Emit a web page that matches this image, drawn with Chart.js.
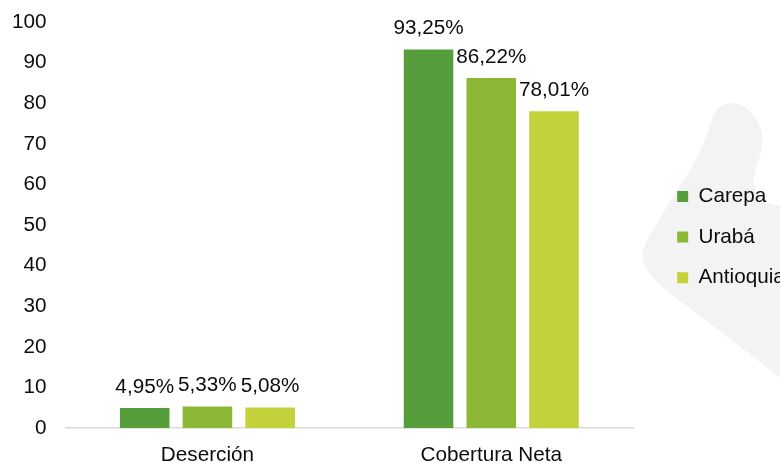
<!DOCTYPE html>
<html>
<head>
<meta charset="utf-8">
<script src="https://cdn.jsdelivr.net/npm/chart.js@4"></script>
<style>
  html, body { margin: 0; padding: 0; background: #ffffff; }
  #wrap { width: 780px; height: 463px; position: relative; }
</style>
</head>
<body>
<div id="wrap"><canvas id="c"></canvas></div>
<script>
const categories = ['Deserción', 'Cobertura Neta'];
const seriesNames = ['Carepa', 'Urabá', 'Antioquia'];
const carepa = [4.95, 93.25];
const uraba = [5.33, 86.22];
const antioquia = [5.08, 78.01];
const seriesColors = ['#559E3B', '#8CB835', '#C3D13A'];
const yTicks = [0, 10, 20, 30, 40, 50, 60, 70, 80, 90, 100];

const FONT = "'Liberation Sans', Arial, sans-serif";
const FSIZE = 20.7;
const TXT = '#0d0d0d';

const bgShape = {
  id: 'bgShape',
  beforeDraw(chart) {
    const ctx = chart.ctx;
    ctx.save();
    ctx.fillStyle = '#F3F3F3';
    ctx.beginPath();
    ctx.moveTo(780, 205);
    ctx.bezierCurveTo(768, 206, 757, 200, 753, 182);
    ctx.bezierCurveTo(755, 165, 765, 150, 762, 135);
    ctx.bezierCurveTo(758, 115, 745, 103, 732, 103);
    ctx.bezierCurveTo(718, 103, 713, 115, 710, 125);
    ctx.bezierCurveTo(700, 160, 680, 185, 663, 213);
    ctx.bezierCurveTo(650, 235, 640, 248, 643, 262);
    ctx.bezierCurveTo(650, 282, 680, 300, 700, 316);
    ctx.bezierCurveTo(725, 335, 755, 358, 780, 378);
    ctx.closePath();
    ctx.fill();
    ctx.restore();
  }
};

const valueLabels = {
  id: 'valueLabels',
  afterDatasetsDraw(chart) {
    const ctx = chart.ctx;
    ctx.save();
    ctx.font = FSIZE + 'px ' + FONT;
    ctx.fillStyle = TXT;
    ctx.textAlign = 'center';
    ctx.textBaseline = 'middle';
    chart.data.datasets.forEach((ds, di) => {
      const meta = chart.getDatasetMeta(di);
      meta.data.forEach((el, i) => {
        const v = ds.data[i];
        const txt = v.toFixed(2).replace('.', ',') + '%';
        ctx.fillText(txt, el.x, el.y - 21);
      });
    });
    ctx.restore();
  }
};

new Chart(document.getElementById('c'), {
  type: 'bar',
  data: {
    labels: categories,
    datasets: [
      { label: seriesNames[0], data: carepa, backgroundColor: seriesColors[0] },
      { label: seriesNames[1], data: uraba, backgroundColor: seriesColors[1] },
      { label: seriesNames[2], data: antioquia, backgroundColor: seriesColors[2] }
    ]
  },
  options: {
    responsive: true,
    maintainAspectRatio: false,
    animation: false,
    devicePixelRatio: 1,
    layout: { padding: { top: 22, right: -10, left: -7, bottom: -20 } },
    datasets: { bar: { categoryPercentage: 0.663, barPercentage: 0.79 } },
    scales: {
      x: {
        grid: { display: false, drawTicks: false },
        border: { display: true, color: '#D9D9D9', width: 1.5 },
        ticks: { color: TXT, font: { size: FSIZE, family: FONT }, padding: 15 }
      },
      y: {
        min: 0, max: 100,
        afterBuildTicks(scale) { scale.ticks = yTicks.map(v => ({ value: v })); },
        afterFit(scale) { scale.paddingTop = 0; scale.paddingBottom = 0; },
        grid: { display: false, drawTicks: false },
        border: { display: false },
        ticks: { color: TXT, font: { size: FSIZE, family: FONT }, padding: 19 }
      },
      yR: {
        position: 'right',
        display: true,
        grid: { display: false, drawTicks: false },
        border: { display: false },
        ticks: { display: false },
        afterFit(scale) { scale.width = 24; }
      }
    },
    plugins: {
      legend: {
        position: 'right',
        align: 'center',
        fullSize: false,
        title: { display: true, text: ' ', padding: 0, font: { size: 20, lineHeight: 1.2, family: FONT } },
        labels: {
          boxWidth: 11, boxHeight: 11, padding: 20,
          color: TXT,
          font: { size: FSIZE, family: FONT }
        }
      },
      tooltip: { enabled: false }
    }
  },
  plugins: [bgShape, valueLabels]
});
</script>
</body>
</html>
